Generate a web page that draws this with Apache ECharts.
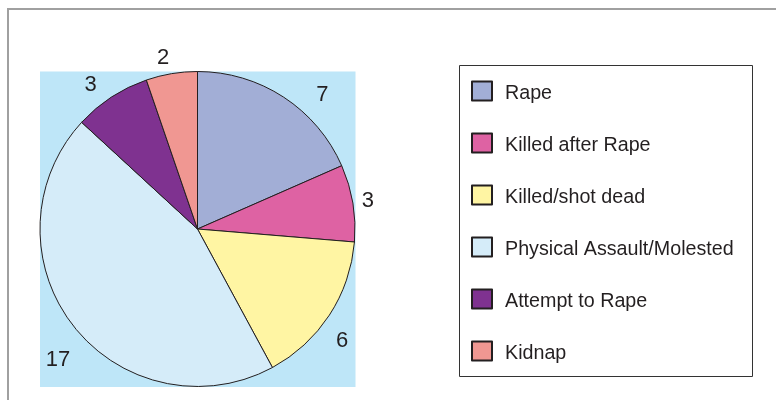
<!DOCTYPE html>
<html><head><meta charset="utf-8">
<script src="https://cdn.jsdelivr.net/npm/echarts@6/dist/echarts.min.js"></script>
<style>html,body{margin:0;padding:0;background:#fff}#c{width:776px;height:400px}</style>
</head><body><div id="c"></div>
<script>
const categories = ['Rape', 'Killed after Rape', 'Killed/shot dead', 'Physical Assault/Molested', 'Attempt to Rape', 'Kidnap'];
const values = [7, 3, 6, 17, 3, 2];
const colors = ['#a2aed6', '#de62a3', '#fff5a3', '#d5ecf9', '#7f3290', '#f09792'];

// small nudges reproducing the "best fit" placement of the original labels
const labelNudge = [[20, 10], [-10, 0], [-10, 18], [13, 26], [-2, 0], [5, -2]];

const chart = echarts.init(document.getElementById('c'), null, {renderer: 'canvas'});
chart.setOption({
  animation: false,
  color: colors,
  graphic: [
    {type: 'rect', z: -10, shape: {x: 8, y: 9, width: 800, height: 420}, style: {fill: '#fff', stroke: '#a0a0a0', lineWidth: 2}},
    {type: 'rect', z: -5, shape: {x: 40, y: 71.5, width: 315.5, height: 315.5}, style: {fill: '#bee6f8'}},
    {type: 'rect', z: -5, shape: {x: 459.5, y: 65.5, width: 293, height: 311}, style: {fill: '#fff', stroke: '#333', lineWidth: 1}}
  ],
  legend: {
    orient: 'vertical', left: 471, top: 78, padding: 0,
    itemWidth: 20, itemHeight: 19, itemGap: 26, icon: 'rect',
    formatter: '{t|{name}}',
    textStyle: {
      fontFamily: 'Liberation Sans, Arial, sans-serif', fontSize: 19.7, color: '#231f20',
      rich: {t: {fontFamily: 'Liberation Sans, Arial, sans-serif', fontSize: 19.7, color: '#231f20', lineHeight: 19, padding: [6, 0, 0, 8]}}
    },
    data: categories
  },
  series: [{
    type: 'pie',
    center: [197.5, 229],
    radius: 157.5,
    startAngle: 90,
    clockwise: true,
    avoidLabelOverlap: false,
    itemStyle: {borderColor: '#231f20', borderWidth: 1},
    emphasis: {disabled: true},
    label: {
      show: true, position: 'outside', formatter: '{c}',
      fontFamily: "'Liberation Sans Narrow', 'Liberation Sans', Arial, sans-serif",
      fontSize: 22, color: '#231f20'
    },
    labelLine: {show: false, length: 14, length2: 0},
    labelLayout: function (p) {
      const n = labelNudge[p.dataIndex] || [0, 0];
      return {dx: n[0], dy: n[1]};
    },
    data: categories.map((n, i) => ({name: n, value: values[i]}))
  }]
});
</script></body></html>
